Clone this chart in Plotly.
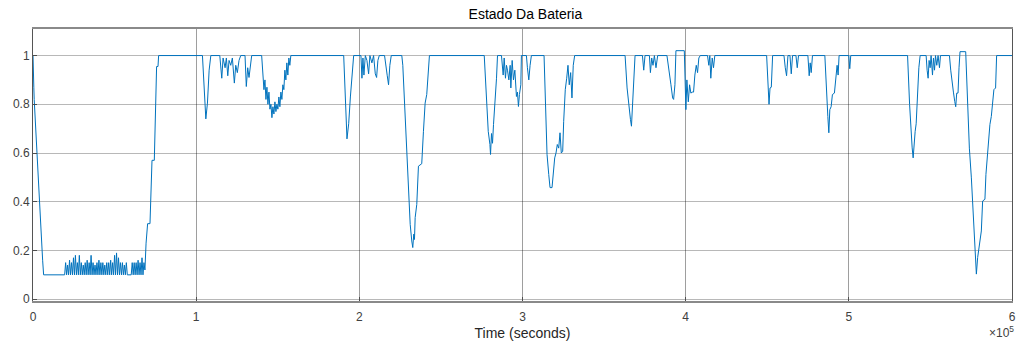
import plotly.graph_objects as go

# Battery state of charge over time, one list pair per stretch of the run.
t_start = [0, 150, 300, 500, 730, 2000, 3480, 3700, 5900, 6500]
soc_start = [1.0, 0.9, 0.88, 0.87, 0.82, 0.64, 0.45, 0.44, 0.16, 0.10]

t_low = [19400, 20000, 20600, 21200, 21800, 22400, 23000, 23600, 24200, 24800,
         25400, 26000, 26600, 27200, 27800, 28400, 29000, 29600, 30200, 30800,
         31400, 32000, 32600, 33200, 33800, 34400, 35000, 35600, 36200, 36800,
         37400, 38000, 38600, 39200, 39800, 40400, 41000, 41600, 42200, 42800,
         43400, 44000, 44600, 45200, 45800, 46400, 47000, 47600, 48200, 48800,
         49400, 50000, 50600, 51200, 51800, 52400, 53000, 53600, 54200, 54800,
         55400, 56000, 56600, 57200, 57800, 58400, 59000, 59600, 60200, 60800,
         61400, 62000, 62600, 63200, 63800, 64400, 65000, 65600, 66200, 66800,
         67400, 68000]
soc_low = [0.10, 0.15, 0.10, 0.14, 0.10, 0.16, 0.10, 0.15, 0.10, 0.17,
           0.10, 0.18, 0.10, 0.15, 0.10, 0.18, 0.10, 0.15, 0.10, 0.14,
           0.10, 0.15, 0.10, 0.16, 0.10, 0.15, 0.10, 0.18, 0.10, 0.15,
           0.10, 0.14, 0.10, 0.15, 0.10, 0.16, 0.10, 0.15, 0.10, 0.15,
           0.10, 0.14, 0.10, 0.15, 0.10, 0.15, 0.10, 0.16, 0.10, 0.15,
           0.10, 0.18, 0.10, 0.19, 0.10, 0.17, 0.10, 0.15, 0.10, 0.15,
           0.10, 0.14, 0.10, 0.15, 0.10, 0.10, 0.10, 0.10, 0.10, 0.15,
           0.10, 0.15, 0.10, 0.15, 0.10, 0.16, 0.10, 0.15, 0.10, 0.17,
           0.10, 0.15]

t_charge = [68600, 69300, 70250, 71700, 72330, 72940, 74350, 74960, 75750, 76600, 77000]
soc_charge = [0.12, 0.23, 0.31, 0.31, 0.44, 0.57, 0.57, 0.71, 0.955, 0.955, 1.0]

t_day1 = [103850, 105930, 106910, 107950, 108980,
          114480, 115700, 116500, 117720, 118510, 119370, 120160, 121200, 122180,
          123400, 124260, 125230, 126270, 127310,
          129940, 130730, 131590, 132380, 133180, 134030,
          140140, 140930, 141540, 142150, 142760, 143370, 143980, 144600, 145210,
          145820, 146430, 147040, 147650, 148260, 148870, 149480, 150090, 150700,
          151310, 151920, 152530, 153140, 153750, 154360, 154970, 155580, 156190,
          156800, 157410, 158020]
soc_day1 = [1.0, 0.74, 0.805, 0.94, 1.0,
            1.0, 0.907, 0.99, 0.95, 0.99, 0.917, 0.98, 0.96, 0.99,
            0.887, 0.96, 0.93, 0.98, 1.0,
            1.0, 0.873, 0.95, 0.91, 0.95, 1.0,
            1.0, 0.93, 0.86, 0.9, 0.82, 0.87, 0.8, 0.85, 0.78,
            0.8, 0.745, 0.79, 0.76, 0.81, 0.77, 0.8, 0.78, 0.83,
            0.79, 0.85, 0.82, 0.88, 0.86, 0.94, 0.9, 0.97, 0.92,
            0.99, 0.96, 1.0]

t_day2 = [190420, 192430, 193040, 193470, 194510, 195490, 196530,
          200990, 201600, 202210, 202820, 203670, 204650, 205690, 206480, 207710,
          208740, 209780, 210580, 211370, 212220,
          215460, 216260, 217110, 217910, 218700, 219560,
          226030, 226640, 228110, 229090, 230130, 231170, 232140, 232750, 233360,
          233790, 234220, 235200, 236230, 238250, 239290, 240330, 241310, 241920,
          242960]
soc_day2 = [1.0, 0.658, 0.70, 0.72, 0.83, 0.907, 1.0,
            1.0, 0.907, 0.99, 0.92, 1.0, 0.98, 0.925, 1.0, 0.97,
            1.0, 0.925, 0.91, 0.98, 1.0,
            1.0, 0.95, 0.917, 0.88, 0.96, 1.0,
            1.0, 0.96, 0.73, 0.566, 0.417, 0.307, 0.239, 0.212, 0.267,
            0.245, 0.335, 0.389, 0.546, 0.556, 0.689, 0.805, 0.84, 0.907,
            1.0]

t_day3 = [276550, 277960, 279000, 280040, 280400, 281010, 281620, 282230, 283090,
          284070, 284680,
          287120, 288160, 288770, 289570, 290180, 290790, 291640, 292440, 292860,
          293660, 294450, 295310, 296290, 296900, 297510, 298120, 298970, 299340,
          302400, 303010, 303860, 304650, 305450,
          313210, 314000, 315040, 316080, 316870, 318100, 318890, 319740, 320540,
          321330, 322190, 322980, 323780, 324630, 325240, 326220, 327080, 327870,
          328660, 329520, 330310, 331110, 331960]
soc_day3 = [1.0, 0.84, 0.689, 0.635, 0.594, 0.68, 0.64, 0.717, 0.8,
            0.907, 1.0,
            1.0, 0.92, 0.99, 0.907, 0.96, 0.94, 0.9, 0.96, 0.867,
            0.98, 0.9, 0.94, 0.832, 0.85, 0.791, 0.84, 0.88, 1.0,
            1.0, 0.95, 0.9, 0.96, 1.0,
            1.0, 0.805, 0.594, 0.512, 0.458, 0.458, 0.512, 0.58, 0.6,
            0.635, 0.62, 0.683, 0.6, 0.607, 0.73, 0.86, 0.907, 0.96,
            0.88, 0.93, 0.826, 0.96, 1.0]

t_day4 = [362870, 364100, 365130, 366170, 366780, 367390, 368190, 368980,
          373510, 374300, 375090, 377780, 378390, 379190, 379980, 380830, 381810,
          382850,
          388530, 389990, 390980, 392010, 392620, 393420, 394030, 399160, 400140,
          400750, 401610, 402400, 403190, 404050, 404840, 405640, 406490, 407290,
          408080, 408930,
          413400, 414190, 414800, 415410, 416270, 417060, 417860]
soc_day4 = [1.0, 0.867, 0.79, 0.737, 0.71, 0.79, 0.867, 1.0,
            1.0, 0.94, 1.0, 1.0, 0.93, 0.99, 0.96, 1.0, 0.95,
            1.0,
            1.0, 0.94, 0.88, 0.826, 0.82, 0.88, 1.02, 1.02, 0.778,
            0.9, 0.81, 0.88, 0.846, 0.85, 0.85, 0.92, 0.96, 0.93,
            0.99, 1.0,
            1.0, 0.96, 1.0, 0.907, 0.99, 0.95, 1.0]

t_day5 = [449620, 450480, 451090, 451700, 452490, 453290,
          460250, 461050, 461840, 462690, 463920, 464710, 465500, 467590, 468380,
          469170, 474910, 475710, 476320, 476930, 477720,
          485300, 486280, 487130, 487740, 488350, 489150, 489940, 491160, 492010,
          492810, 493430, 494030,
          499960, 500570, 501180]
soc_day5 = [1.0, 0.88, 0.8, 0.867, 0.87, 1.0,
            1.0, 0.95, 0.917, 1.0, 1.0, 0.925, 1.0, 1.0, 0.95,
            1.0, 1.0, 0.917, 0.97, 0.93, 1.0,
            1.0, 0.84, 0.75, 0.683, 0.778, 0.79, 0.84, 0.846, 0.907,
            0.96, 0.92, 1.0,
            1.0, 0.946, 1.0]

t_day6 = [536000, 537230, 538200, 538810, 539420, 540040, 540650, 541260, 542110,
          542910, 543700,
          547370, 547980, 548590, 549200, 549810, 550420, 551270, 551880, 552500,
          553110, 553900, 554700, 555550, 556160,
          561660, 562450, 563250, 564100, 564900, 565510, 566120, 566920, 567530,
          568140, 571620, 572660, 573870, 575100, 576320, 577540, 578160, 578950,
          579560, 580360, 581210, 582000, 583410, 584020, 584870, 585670, 586460,
          587320, 588110, 588910, 589940, 590570, 600000]
soc_day6 = [1.0, 0.8, 0.648, 0.621, 0.58, 0.66, 0.689, 0.72, 0.84,
            0.95, 1.0,
            1.0, 0.94, 0.907, 0.98, 0.95, 1.0, 0.92, 0.99, 0.94,
            1.0, 0.96, 1.0, 0.95, 1.0,
            1.0, 0.94, 0.88, 0.85, 0.812, 0.79, 0.846, 0.846, 0.95,
            1.016, 1.016, 0.81, 0.62, 0.498, 0.335, 0.171, 0.103, 0.171,
            0.198, 0.239, 0.28, 0.403, 0.41, 0.512, 0.58, 0.655, 0.717,
            0.75, 0.8, 0.86, 0.867, 1.0, 1.0]

x_ticks = [0, 100000, 200000, 300000, 400000, 500000, 600000]
x_tick_text = ["0", "1", "2", "3", "4", "5", "6"]
y_ticks = [0, 0.2, 0.4, 0.6, 0.8, 1.0]
y_tick_text = ["0", "0.2", "0.4", "0.6", "0.8", "1"]

time_s = (t_start + t_low + t_charge + t_day1 + t_day2 + t_day3
          + t_day4 + t_day5 + t_day6)
soc = (soc_start + soc_low + soc_charge + soc_day1 + soc_day2 + soc_day3
       + soc_day4 + soc_day5 + soc_day6)

font = "Liberation Sans, Arial, sans-serif"

fig = go.Figure()
fig.add_trace(go.Scatter(
    x=time_s, y=soc, mode="lines",
    line=dict(color="#0072BD", width=1),
    hoverinfo="skip", showlegend=False,
))

fig.update_layout(
    width=1022, height=345,
    margin=dict(l=33, r=6, t=29, b=43),
    paper_bgcolor="white", plot_bgcolor="white",
    font=dict(family=font, size=12, color="#262626"),
    title=dict(text="Estado Da Bateria", x=0.503, xref="paper", xanchor="center",
               y=1, yref="container", yanchor="top", pad=dict(t=9),
               font=dict(family=font, size=14, color="#000000")),
    xaxis=dict(
        range=[0, 600000], tickvals=x_ticks, ticktext=x_tick_text,
        showgrid=True, gridcolor="rgba(0,0,0,0.38)", gridwidth=1,
        zeroline=False, showline=True, linecolor="#8a8a8a", linewidth=2,
        mirror=True, ticks="inside", ticklen=4, tickcolor="#4d4d4d",
        ticklabelstandoff=4,
        tickfont=dict(size=12, color="#404040"),
        title=dict(text="Time (seconds)", standoff=5,
                   font=dict(size=14, color="#262626")),
    ),
    yaxis=dict(
        range=[-0.0074, 1.109], tickvals=y_ticks, ticktext=y_tick_text,
        showgrid=True, gridcolor="rgba(0,0,0,0.28)", gridwidth=1,
        zeroline=False, showline=True, linecolor="#555555", linewidth=1,
        mirror=True, ticks="inside", ticklen=4, tickcolor="#4d4d4d",
        tickfont=dict(size=12, color="#404040"),
    ),
    annotations=[dict(
        text="×10<sup>5</sup>", xref="paper", yref="paper",
        x=1.004, y=-0.152, xanchor="right", yanchor="bottom", showarrow=False,
        font=dict(size=12, color="#404040"),
    )],
)

fig.write_html("out.html")
